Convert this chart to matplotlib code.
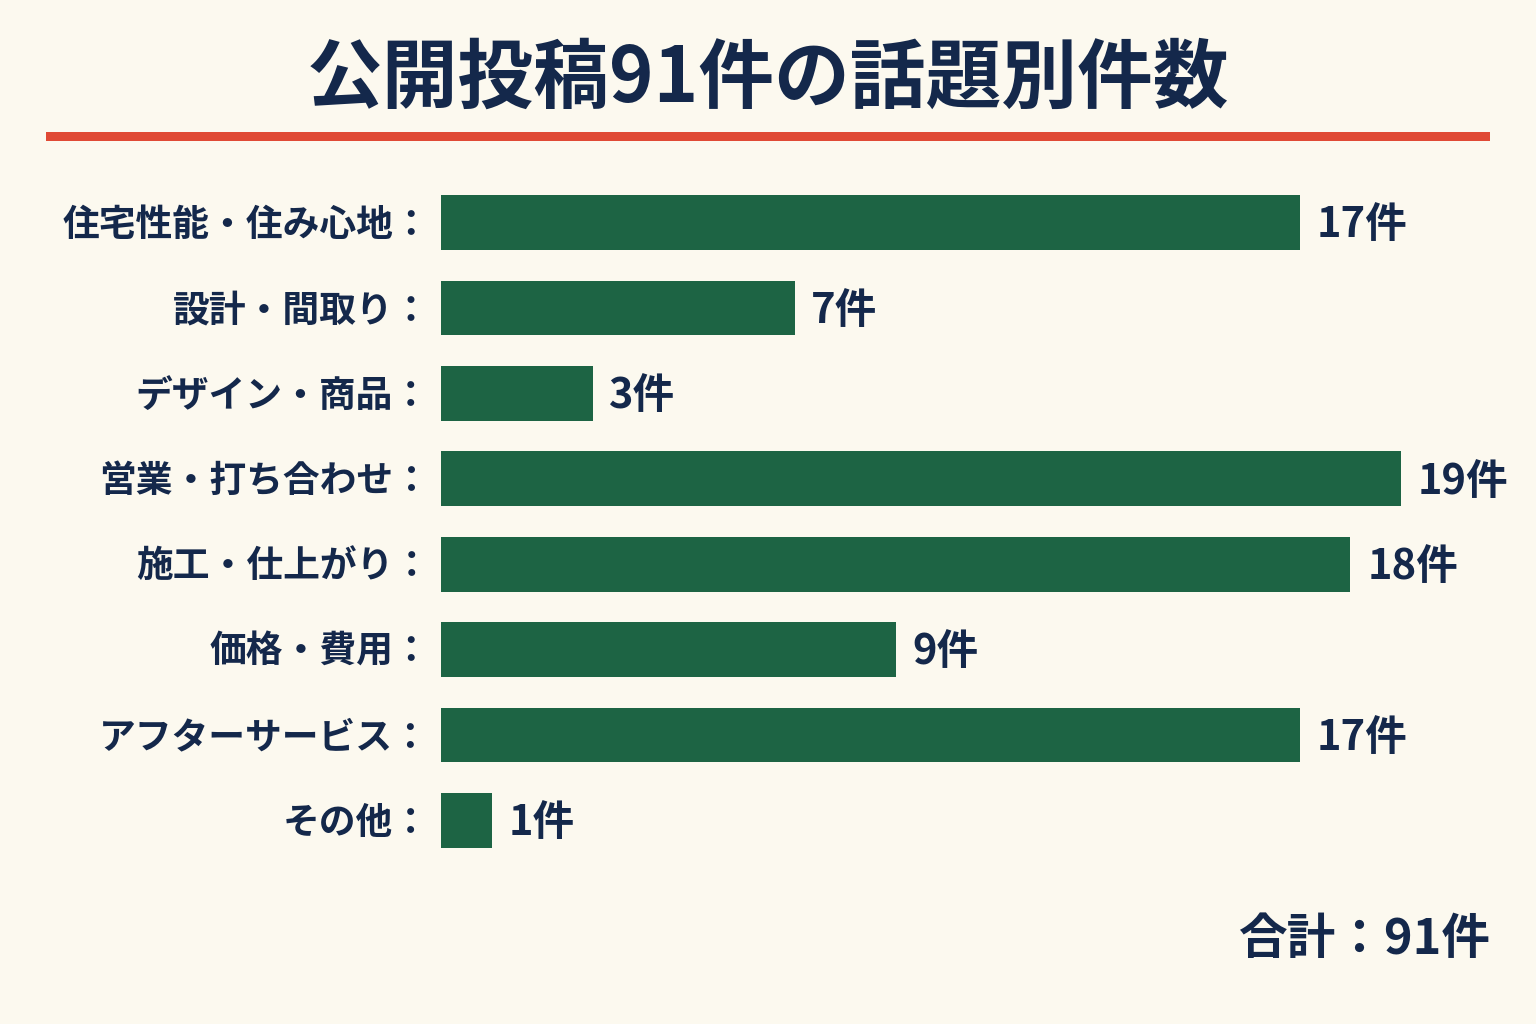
import matplotlib
matplotlib.use("Agg")
from matplotlib import pyplot as plt
from matplotlib.patches import Rectangle

plt.rcParams["font.family"] = ["Noto Sans CJK JP", "DejaVu Sans"]

# data
topics = ["住宅性能・住み心地", "設計・間取り", "デザイン・商品", "営業・打ち合わせ",
          "施工・仕上がり", "価格・費用", "アフターサービス", "その他"]
counts = [17, 7, 3, 19, 18, 9, 17, 1]
total = 91

bg = "#fcf9ef"
navy = "#14284b"
green = "#1d6444"
red = "#e04a35"

fig = plt.figure(figsize=(15.36, 10.24), dpi=100, facecolor=bg)
ax = fig.add_axes([441 / 1536, 1 - 863 / 1024, (1401 - 441) / 1536, (863 - 180) / 1024])
ax.set_facecolor(bg)

y = list(range(len(topics)))
ax.barh(y, counts, height=0.64, color=green)
ax.set_xlim(0, 19)
ax.set_ylim(len(topics) - 0.5, -0.5)

for i, (t, c) in enumerate(zip(topics, counts)):
    ax.annotate(t + "：", (0, i), xytext=(-8, -2), textcoords="offset points",
                ha="right", va="center", fontsize=26.5, fontweight="bold", color=navy)
    ax.annotate(f"{c}件", (c, i), xytext=(12, -2), textcoords="offset points",
                ha="left", va="center", fontsize=30, fontweight="bold", color=navy,
                annotation_clip=False)

ax.set_xticks([])
ax.set_yticks([])
for s in ax.spines.values():
    s.set_visible(False)

fig.text(0.5, 1 - 79 / 1024, "公開投稿91件の話題別件数", ha="center", va="center",
         fontsize=54.5, fontweight="bold", color=navy)
fig.add_artist(Rectangle((46 / 1536, 1 - 141 / 1024), (1490 - 46) / 1536, 9 / 1024,
                         transform=fig.transFigure, color=red, lw=0))
fig.text(1490 / 1536, 1 - 939 / 1024, f"合計：{total}件", ha="right", va="center",
         fontsize=35, fontweight="bold", color=navy)

fig.savefig("out.png", dpi=100, facecolor=bg)
